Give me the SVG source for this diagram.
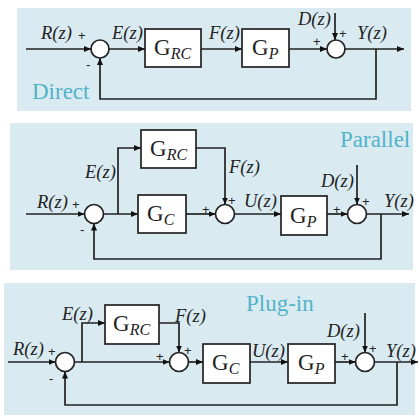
<svg xmlns="http://www.w3.org/2000/svg" width="419" height="415" viewBox="0 0 419 415">
<defs>
<marker id="arr" markerUnits="userSpaceOnUse" markerWidth="8" markerHeight="7" refX="7" refY="3" orient="auto">
<path d="M0,0 L7,3 L0,6 z" fill="#111"/>
</marker>
<style>
.bg{fill:#d9ebf1}
.blk{fill:#fff;stroke:#222;stroke-width:1.7}
.sum{fill:#fff;stroke:#222;stroke-width:1.7}
.ln{fill:none;stroke:#222;stroke-width:1.7}
.ar{marker-end:url(#arr)}
.sig{font-family:"Liberation Serif","Times New Roman",serif;font-style:italic;font-size:18.5px;fill:#222}
.g{font-family:"Liberation Serif","Times New Roman",serif;font-size:23px;fill:#222}
.sub{font-family:"Liberation Serif","Times New Roman",serif;font-style:italic;font-size:16px}
.pm{font-family:"Liberation Sans",Arial,sans-serif;font-size:13px;fill:#222}
.ttl{font-family:"Liberation Serif","Times New Roman",serif;font-size:23px;fill:#52b3c9}
</style>
</defs>

<!-- Panel backgrounds -->
<rect class="bg" x="17" y="8" width="394" height="103"/>
<rect class="bg" x="10" y="123" width="403" height="147"/>
<rect class="bg" x="4" y="283" width="411" height="132"/>

<!-- ===== Panel 1: Direct ===== -->
<g id="p1-sum1"><circle class="sum" cx="100" cy="49" r="9"/></g>
<g id="p1-grc"><rect class="blk" x="145" y="29" width="56" height="38"/><text class="g" x="154" y="55">G<tspan class="sub" dy="4">RC</tspan></text></g>
<g id="p1-gp"><rect class="blk" x="242" y="29" width="47" height="38"/><text class="g" x="252" y="55">G<tspan class="sub" dy="4">P</tspan></text></g>
<g id="p1-sum2"><circle class="sum" cx="336" cy="49" r="9"/></g>

<!-- ===== Panel 2: Parallel ===== -->
<g id="p2-sum1"><circle class="sum" cx="94" cy="214" r="9.5"/></g>
<g id="p2-grc"><rect class="blk" x="141" y="130" width="55" height="38"/><text class="g" x="150" y="156">G<tspan class="sub" dy="4">RC</tspan></text></g>
<g id="p2-gc"><rect class="blk" x="138" y="195" width="48" height="38"/><text class="g" x="147" y="221">G<tspan class="sub" dy="4">C</tspan></text></g>
<g id="p2-sum2"><circle class="sum" cx="225" cy="214" r="9.5"/></g>
<g id="p2-gp"><rect class="blk" x="281" y="196" width="46" height="39"/><text class="g" x="290" y="223">G<tspan class="sub" dy="4">P</tspan></text></g>
<g id="p2-sum3"><circle class="sum" cx="357" cy="214" r="9.5"/></g>

<!-- ===== Panel 3: Plug-in ===== -->
<g id="p3-sum1"><circle class="sum" cx="65" cy="362" r="9.5"/></g>
<g id="p3-grc"><rect class="blk" x="105" y="305" width="54" height="39"/><text class="g" x="113" y="331">G<tspan class="sub" dy="4">RC</tspan></text></g>
<g id="p3-sum2"><circle class="sum" cx="179" cy="362" r="9.5"/></g>
<g id="p3-gc"><rect class="blk" x="203" y="344" width="47" height="39"/><text class="g" x="212" y="370">G<tspan class="sub" dy="4">C</tspan></text></g>
<g id="p3-gp"><rect class="blk" x="288" y="344" width="47" height="39"/><text class="g" x="298" y="370">G<tspan class="sub" dy="4">P</tspan></text></g>
<g id="p3-sum3"><circle class="sum" cx="365" cy="362" r="9.5"/></g>

<!-- Connectors -->
<g id="connectors">
<!-- panel 1 -->
<path class="ln ar" d="M26,49 H91"/>
<path class="ln ar" d="M109,49 H145"/>
<path class="ln ar" d="M201,49 H242"/>
<path class="ln ar" d="M289,49 H327"/>
<path class="ln ar" d="M335,13 V40"/>
<path class="ln ar" d="M345,49 H404"/>
<path class="ln ar" d="M376,49 V99 H100 V58"/>
<!-- panel 2 -->
<path class="ln ar" d="M26,214 H84.5"/>
<path class="ln ar" d="M103.5,214 H138"/>
<path class="ln ar" d="M118,214 V148 H141"/>
<path class="ln ar" d="M186,214 H215.5"/>
<path class="ln ar" d="M196,148 H225 V204.5"/>
<path class="ln ar" d="M234.5,214 H281"/>
<path class="ln ar" d="M327,214 H347.5"/>
<path class="ln ar" d="M357,165 V204.5"/>
<path class="ln ar" d="M366.5,214 H409"/>
<path class="ln ar" d="M381,214 V259 H94 V223.5"/>
<!-- panel 3 -->
<path class="ln ar" d="M8,362 H55.5"/>
<path class="ln ar" d="M74.5,362 H169.5"/>
<path class="ln ar" d="M82,362 V323 H105"/>
<path class="ln ar" d="M159,323 H179 V352.5"/>
<path class="ln ar" d="M188.5,362 H203"/>
<path class="ln ar" d="M250,362 H288"/>
<path class="ln ar" d="M335,362 H355.5"/>
<path class="ln ar" d="M365,313 V352.5"/>
<path class="ln ar" d="M374.5,362 H418"/>
<path class="ln ar" d="M397,362 V405 H65 V371.5"/>
</g>

<!-- Labels -->
<g id="labels">
<!-- panel 1 -->
<text class="sig" x="41" y="39">R(z)</text>
<text class="pm" x="78" y="40">+</text>
<text class="pm" x="86" y="69">-</text>
<text class="sig" x="112" y="39">E(z)</text>
<text class="sig" x="209" y="39">F(z)</text>
<text class="sig" x="298" y="25">D(z)</text>
<text class="pm" x="339" y="38">+</text>
<text class="pm" x="313" y="46">+</text>
<text class="sig" x="357" y="39">Y(z)</text>
<text class="ttl" x="32" y="99">Direct</text>
<!-- panel 2 -->
<text class="sig" x="37" y="208">R(z)</text>
<text class="pm" x="72" y="209">+</text>
<text class="pm" x="80" y="234">-</text>
<text class="sig" x="85" y="178">E(z)</text>
<text class="sig" x="229" y="173">F(z)</text>
<text class="pm" x="202" y="214">+</text>
<text class="pm" x="228" y="205">+</text>
<text class="sig" x="244" y="207">U(z)</text>
<text class="pm" x="333" y="214">+</text>
<text class="sig" x="321" y="187">D(z)</text>
<text class="pm" x="362" y="206">+</text>
<text class="sig" x="384" y="207">Y(z)</text>
<text class="ttl" x="340" y="147">Parallel</text>
<!-- panel 3 -->
<text class="sig" x="13" y="355">R(z)</text>
<text class="pm" x="48" y="356">+</text>
<text class="pm" x="49" y="383">-</text>
<text class="sig" x="62" y="320">E(z)</text>
<text class="sig" x="175" y="322">F(z)</text>
<text class="pm" x="184" y="355">+</text>
<text class="pm" x="156" y="361">+</text>
<text class="sig" x="252" y="357">U(z)</text>
<text class="pm" x="341" y="361">+</text>
<text class="sig" x="327" y="337">D(z)</text>
<text class="pm" x="369" y="353">+</text>
<text class="sig" x="386" y="357">Y(z)</text>
<text class="ttl" x="246" y="311">Plug-in</text>
</g>
</svg>
